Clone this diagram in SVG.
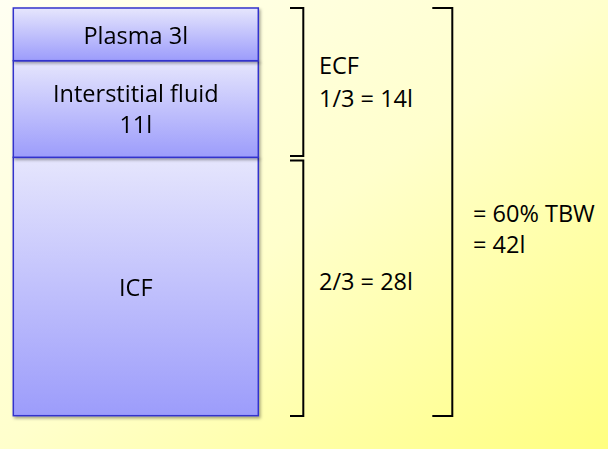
<svg xmlns="http://www.w3.org/2000/svg" width="608" height="449" viewBox="0 0 608 449">
<defs>
<linearGradient id="bg" x1="0" y1="0" x2="1" y2="1">
<stop offset="0" stop-color="#fffff2"/>
<stop offset="0.5" stop-color="#ffffcc"/>
<stop offset="1" stop-color="#ffff80"/>
</linearGradient>
<linearGradient id="box" x1="0" y1="0" x2="0" y2="1">
<stop offset="0" stop-color="#e6e6fd"/>
<stop offset="1" stop-color="#9c9cfb"/>
</linearGradient>
<filter id="sh" x="-10%" y="-10%" width="120%" height="120%">
<feDropShadow dx="1.5" dy="2" stdDeviation="1.5" flood-color="#000" flood-opacity="0.35"/>
</filter>
</defs>
<style>
.box{fill:url(#box);stroke:#3333cc;stroke-width:1.5}
.t{font-family:"Open Sans","Liberation Sans",sans-serif;font-size:23.5px;fill:#000}
.c{text-anchor:middle}
.br{fill:none;stroke:#000;stroke-width:2}
</style>
<rect width="608" height="449" fill="url(#bg)"/>
<g id="icf" filter="url(#sh)">
<rect class="box" x="13.3" y="157.3" width="245" height="258.4"/>
<text class="t c" x="135.8" y="296">ICF</text>
</g>
<g id="interstitial" filter="url(#sh)">
<rect class="box" x="13.3" y="60.7" width="245" height="96.6"/>
<text class="t c" x="135.8" y="101.5">Interstitial fluid</text>
<text class="t c" x="135.8" y="132.8">11l</text>
</g>
<g id="plasma" filter="url(#sh)">
<rect class="box" x="13.3" y="8" width="245" height="52.7"/>
<text class="t c" x="135.8" y="44.3">Plasma 3l</text>
</g>
<g id="connectors">
<path class="br" d="M290,8 H303.3 V156 H290"/>
<path class="br" d="M290,160.5 H303.3 V416 H290"/>
<path class="br" d="M432.3,8 H452.3 V416 H432.3"/>
</g>
<g id="labels">
<text class="t" x="319" y="74">ECF</text>
<text class="t" x="319" y="106.7">1/3 = 14l</text>
<text class="t" x="319" y="290">2/3 = 28l</text>
<text class="t" x="473" y="221.5">= 60% TBW</text>
<text class="t" x="473" y="253.3">= 42l</text>
</g>
</svg>
